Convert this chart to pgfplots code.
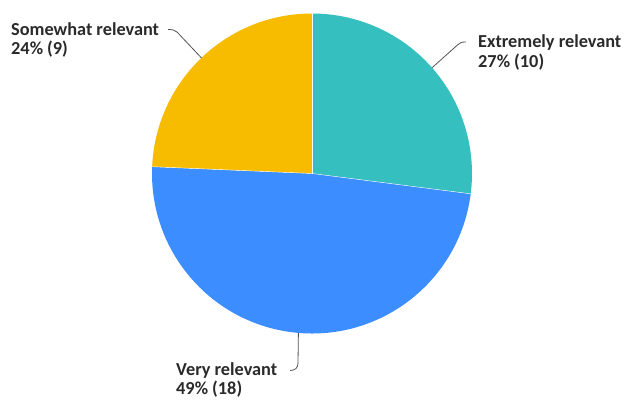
\documentclass[border=0pt]{standalone}
\usepackage{fontspec}
\setmainfont{Carlito}
\usepackage{pgfplots}
\usepackage{pgfplotstable}
\pgfplotsset{compat=1.18}
\definecolor{cteal}{HTML}{35BFBF}
\definecolor{cblue}{HTML}{3C8DFF}
\definecolor{cyellow}{HTML}{F7BC00}
\definecolor{ctext}{HTML}{2A2A2A}
\definecolor{cline}{HTML}{555555}
\pgfplotstableread{
label count
Extremely 10
Very 18
Somewhat 9
}\piedata
\begin{document}
\begin{tikzpicture}
\pgfplotstablegetelem{0}{count}\of\piedata \edef\cA{\pgfplotsretval}
\pgfplotstablegetelem{1}{count}\of\piedata \edef\cB{\pgfplotsretval}
\pgfplotstablegetelem{2}{count}\of\piedata \edef\cC{\pgfplotsretval}
\pgfmathsetmacro\tot{\cA+\cB+\cC}
\pgfmathsetmacro\aA{90}
\pgfmathsetmacro\aB{90-360*\cA/\tot}
\pgfmathsetmacro\aC{\aB-360*\cB/\tot}
\pgfmathsetmacro\aD{\aC-360*\cC/\tot}
\begin{axis}[
  x=1pt, y=1pt,
  xmin=0, xmax=629, ymin=0, ymax=400,
  hide axis, clip=false,
]
\def\cx{312}\def\cy{226.5}\def\R{160}
\fill[cteal] (axis cs:\cx,\cy) -- ++(\aA:\R pt) arc[start angle=\aA, end angle=\aB, radius=\R pt] -- cycle;
\fill[cblue] (axis cs:\cx,\cy) -- ++(\aB:\R pt) arc[start angle=\aB, end angle=\aC, radius=\R pt] -- cycle;
\fill[cyellow] (axis cs:\cx,\cy) -- ++(\aC:\R pt) arc[start angle=\aC, end angle=\aD, radius=\R pt] -- cycle;
\draw[white, line width=0.4pt] (axis cs:\cx,\cy) -- ++(\aA:\R pt);
\draw[white, line width=0.4pt] (axis cs:\cx,\cy) -- ++(\aB:\R pt);
\draw[white, line width=0.4pt] (axis cs:\cx,\cy) -- ++(\aC:\R pt);
% leader lines
\draw[cline, line width=0.8pt] (axis cs:432,332.2) -- (axis cs:458,355.5) .. controls (axis cs:460,357.5) and (axis cs:462,358) .. (axis cs:466,358);
\draw[cline, line width=0.8pt] (axis cs:201.5,342) -- (axis cs:177,368) .. controls (axis cs:175,370) and (axis cs:172,370.5) .. (axis cs:168,370.5);
\draw[cline, line width=0.8pt] (axis cs:298.4,67) -- (axis cs:298,37) .. controls (axis cs:298,32) and (axis cs:295,29.5) .. (axis cs:290,29.5);
% labels
\begin{scope}[every node/.style={font=\fontsize{18.3}{20}\selectfont\bfseries, text=ctext, inner sep=0pt, anchor=base west}]
\node at (axis cs:11,364) {Somewhat relevant};
\node at (axis cs:11,345) {24\% (9)};
\node at (axis cs:478,352) {Extremely relevant};
\node at (axis cs:478,332) {27\% (10)};
\node at (axis cs:176,24.5) {Very relevant};
\node at (axis cs:176,5.5) {49\% (18)};
\end{scope}
\end{axis}
\pgfresetboundingbox
\path[use as bounding box] (0,0) rectangle (629pt,400pt);
\end{tikzpicture}
\end{document}
